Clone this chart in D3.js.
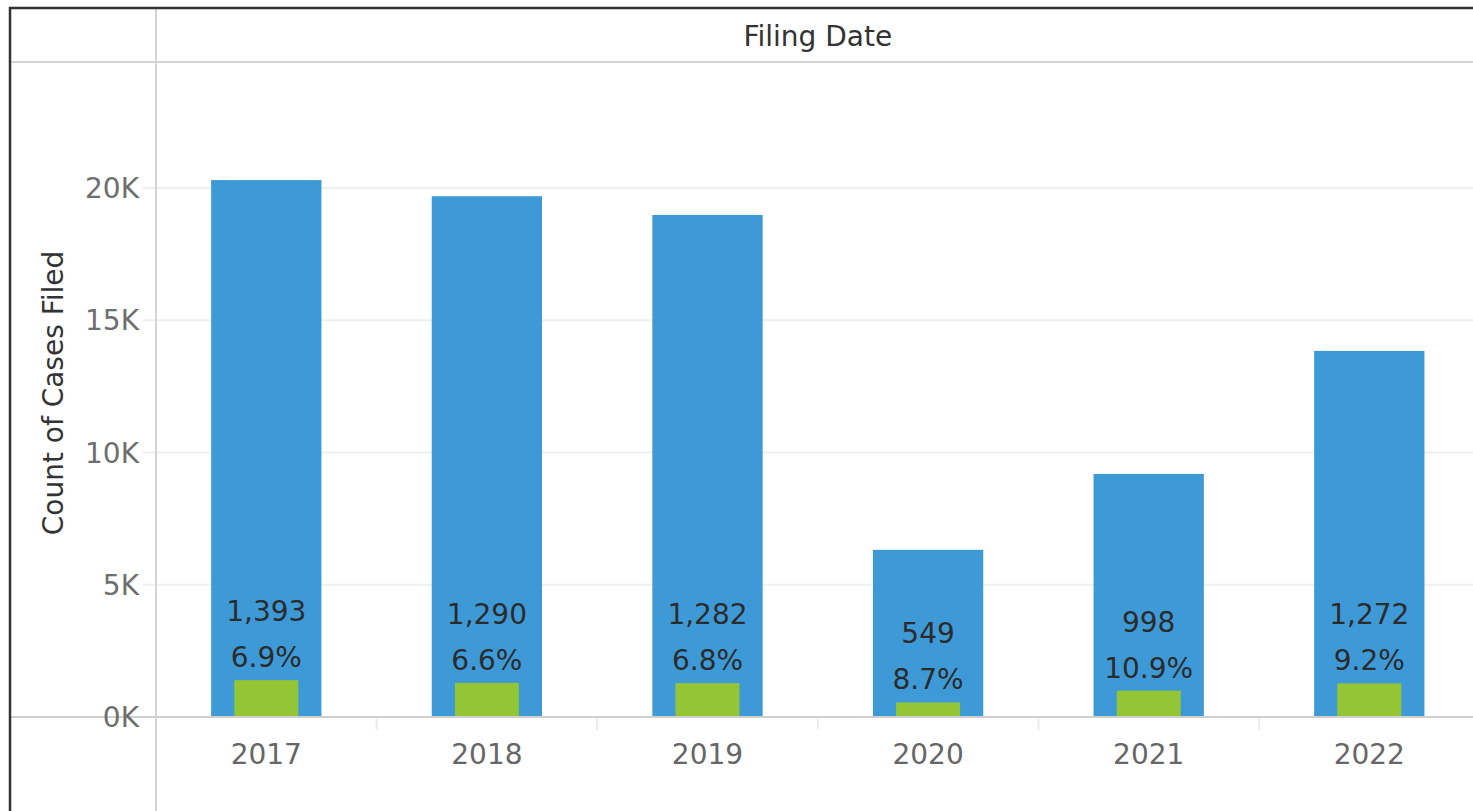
<!DOCTYPE html>
<html>
<head>
<meta charset="utf-8">
<script src="https://cdn.jsdelivr.net/npm/d3@7"></script>
<style>
  body { margin: 0; background: #fff; }
  text { font-family: "DejaVu Sans", sans-serif; }
</style>
</head>
<body>
<div id="chart"></div>
<script>
// values
const years = ["2017", "2018", "2019", "2020", "2021", "2022"];
const totalCases = [20300, 19690, 18980, 6320, 9190, 13840];
const subsetCases = [1393, 1290, 1282, 549, 998, 1272];
const yTicks = [0, 5000, 10000, 15000, 20000];

const W = 1473, H = 811;
const frameLeft = 10, frameTop = 8;
const plotLeft = 156, headerBottom = 62;
const zeroY = 717, topTickY = 188;

const svg = d3.select("#chart")
    .append("svg")
    .attr("width", W)
    .attr("height", H);

const data = years.map((d, i) => ({ year: d, total: totalCases[i], sub: subsetCases[i] }));

const x = d3.scaleBand()
    .domain(years)
    .range([plotLeft, plotLeft + 6 * 220.6])
    .padding(0);

const y = d3.scaleLinear()
    .domain([0, 20000])
    .range([zeroY, topTickY]);

// gridlines + little ticks left of the divider
svg.append("g")
    .selectAll("line")
    .data(yTicks.filter(d => d > 0))
    .join("line")
    .attr("x1", 143)
    .attr("x2", W)
    .attr("y1", d => y(d))
    .attr("y2", d => y(d))
    .attr("stroke", "#efefef")
    .attr("stroke-width", 2);

// frame lines
svg.append("line")
    .attr("x1", frameLeft).attr("x2", W)
    .attr("y1", headerBottom).attr("y2", headerBottom)
    .attr("stroke", "#d4d4d4").attr("stroke-width", 2);

svg.append("line")
    .attr("x1", plotLeft).attr("x2", plotLeft)
    .attr("y1", frameTop).attr("y2", H)
    .attr("stroke", "#d4d4d4").attr("stroke-width", 2);

// bottom tick marks between years
svg.append("g")
    .selectAll("line")
    .data(years.slice(1))
    .join("line")
    .attr("x1", d => x(d))
    .attr("x2", d => x(d))
    .attr("y1", zeroY)
    .attr("y2", zeroY + 13)
    .attr("stroke", "#ececec")
    .attr("stroke-width", 2);

// blue bars (total)
const bw = x.bandwidth() * 0.5;
svg.append("g")
    .selectAll("rect")
    .data(data)
    .join("rect")
    .attr("x", d => x(d.year) + x.bandwidth() / 2 - bw / 2)
    .attr("y", d => y(d.total))
    .attr("width", bw)
    .attr("height", d => y(0) - y(d.total))
    .attr("fill", "#3d9ad7");

// green bars (subset)
const gw = x.bandwidth() * 0.29;
svg.append("g")
    .selectAll("rect")
    .data(data)
    .join("rect")
    .attr("x", d => x(d.year) + x.bandwidth() / 2 - gw / 2)
    .attr("y", d => y(d.sub))
    .attr("width", gw)
    .attr("height", d => y(0) - y(d.sub))
    .attr("fill", "#93c534");

// zero line
svg.append("line")
    .attr("x1", frameLeft).attr("x2", W)
    .attr("y1", zeroY).attr("y2", zeroY)
    .attr("stroke", "#cfcfcf").attr("stroke-width", 2);

// mark labels
const fmtCount = d3.format(",");
const fmtPct = d3.format(".1%");
const labels = svg.append("g")
    .attr("font-size", "28px")
    .attr("fill", "#2b2b2b")
    .attr("text-anchor", "middle");

labels.selectAll(".pct")
    .data(data)
    .join("text")
    .attr("class", "pct")
    .attr("x", d => x(d.year) + x.bandwidth() / 2)
    .attr("y", d => y(d.sub) - 13)
    .text(d => fmtPct(d.sub / d.total));

labels.selectAll(".cnt")
    .data(data)
    .join("text")
    .attr("class", "cnt")
    .attr("x", d => x(d.year) + x.bandwidth() / 2)
    .attr("y", d => y(d.sub) - 59)
    .text(d => fmtCount(d.sub));

// y tick labels
svg.append("g")
    .selectAll("text")
    .data(yTicks)
    .join("text")
    .attr("x", 139)
    .attr("y", d => y(d) + 10)
    .attr("text-anchor", "end")
    .attr("font-size", "28px")
    .attr("fill", "#6e6e6e")
    .text(d => d / 1000 + "K");

// x labels
svg.append("g")
    .selectAll("text")
    .data(years)
    .join("text")
    .attr("x", d => x(d) + x.bandwidth() / 2)
    .attr("y", 764)
    .attr("text-anchor", "middle")
    .attr("font-size", "28px")
    .attr("fill", "#666")
    .text(d => d);

// header + axis title
svg.append("text")
    .attr("x", (x.range()[0] + x.range()[1]) / 2)
    .attr("y", 46)
    .attr("text-anchor", "middle")
    .attr("font-size", "28px")
    .attr("fill", "#333")
    .text("Filing Date");

svg.append("text")
    .attr("transform", "translate(63,393) rotate(-90)")
    .attr("text-anchor", "middle")
    .attr("font-size", "28px")
    .attr("fill", "#333")
    .text("Count of Cases Filed");

// outer border (left + top)
svg.append("path")
    .attr("d", `M${frameLeft},${H} V${frameTop} H${W}`)
    .attr("fill", "none")
    .attr("stroke", "#333")
    .attr("stroke-width", 2.5);
</script>
</body>
</html>
